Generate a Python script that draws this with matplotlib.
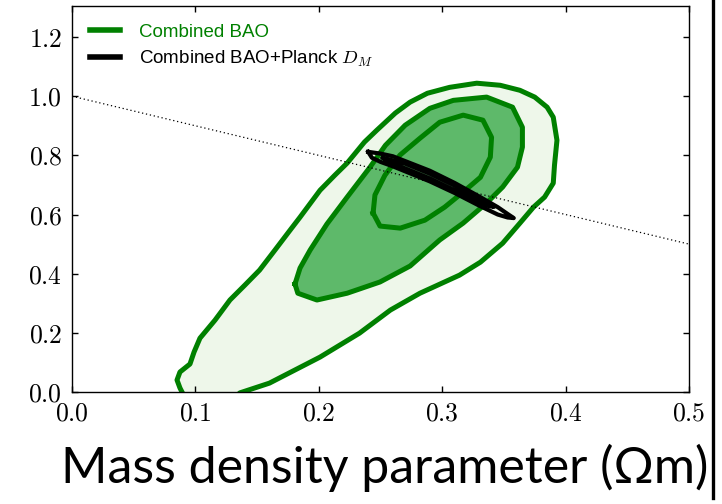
import matplotlib
matplotlib.use("Agg")
import matplotlib.pyplot as plt
import numpy as np
from matplotlib.path import Path
from matplotlib.patches import PathPatch
from matplotlib.lines import Line2D
from matplotlib.ticker import FuncFormatter, MultipleLocator

plt.rcParams['mathtext.fontset'] = 'cm'
plt.rcParams['font.family'] = ['Liberation Sans', 'DejaVu Sans']

# ---- data (Omega_m, Omega_Lambda) ----
bao95_om = [0.0916, 0.0875, 0.0851, 0.0875, 0.0956, 0.0989, 0.1037, 0.1159, 0.128, 0.140,
            0.152, 0.1645, 0.1767, 0.1848, 0.201, 0.213, 0.223, 0.237, 0.247, 0.262,
            0.274, 0.288, 0.306, 0.328, 0.347, 0.363, 0.375, 0.385, 0.390, 0.393,
            0.391, 0.390, 0.383, 0.374, 0.363, 0.349, 0.331, 0.314, 0.282, 0.258,
            0.233, 0.201, 0.160, 0.136, 0.132]
bao95_ol = [-0.020, 0.0135, 0.0405, 0.0676, 0.0946, 0.135, 0.182, 0.243, 0.311, 0.361,
            0.412, 0.480, 0.547, 0.591, 0.682, 0.733, 0.774, 0.845, 0.885, 0.943,
            0.980, 1.010, 1.030, 1.044, 1.037, 1.020, 0.997, 0.963, 0.929, 0.851,
            0.767, 0.706, 0.659, 0.625, 0.571, 0.503, 0.439, 0.395, 0.334, 0.277,
            0.199, 0.118, 0.030, -0.003, -0.020]

bao68_om = [0.1807, 0.183, 0.1985, 0.223, 0.2496, 0.274, 0.298, 0.317, 0.336, 0.349,
            0.361, 0.365, 0.365, 0.357, 0.336, 0.309, 0.290, 0.270, 0.254, 0.2415,
            0.223, 0.2066, 0.193, 0.1848]
bao68_ol = [0.365, 0.334, 0.311, 0.334, 0.372, 0.426, 0.514, 0.571, 0.639, 0.693,
            0.760, 0.828, 0.895, 0.963, 0.997, 0.986, 0.959, 0.902, 0.834, 0.760,
            0.659, 0.568, 0.480, 0.419]

hole_om = [0.244, 0.2455, 0.2536, 0.2658, 0.282, 0.298, 0.317, 0.333, 0.340, 0.339,
           0.331, 0.317, 0.302, 0.286, 0.266, 0.2496]
hole_ol = [0.605, 0.666, 0.733, 0.801, 0.858, 0.912, 0.936, 0.919, 0.861, 0.794,
           0.726, 0.676, 0.625, 0.581, 0.554, 0.561]

planck95_om = [0.240, 0.250, 0.260, 0.290, 0.310, 0.330, 0.345, 0.353, 0.358,
               0.353, 0.345, 0.330, 0.310, 0.290, 0.260, 0.250, 0.243, 0.240]
planck95_ol = [0.812, 0.806, 0.797, 0.748, 0.707, 0.661, 0.625, 0.602, 0.588,
               0.590, 0.600, 0.630, 0.673, 0.712, 0.763, 0.778, 0.792, 0.812]

planck68_om = [0.252, 0.270, 0.290, 0.310, 0.330, 0.342, 0.338, 0.330, 0.310, 0.290, 0.270, 0.255, 0.252]
planck68_ol = [0.792, 0.772, 0.738, 0.698, 0.653, 0.626, 0.628, 0.638, 0.682, 0.722, 0.756, 0.780, 0.792]

flat_om = np.array([0.0, 0.5])
flat_ol = 1.0 - flat_om

xticks = [0.0, 0.1, 0.2, 0.3, 0.4, 0.5]
yticks = [0.0, 0.2, 0.4, 0.6, 0.8, 1.0, 1.2]

GREEN = '#008000'
LIGHT = '#eef7ea'
DARK = '#5eb96a'

fig = plt.figure(figsize=(7.22, 5.04), dpi=100)
ax = fig.add_axes([72/722, 112/504, 617/722, 386/504])

# 95% BAO contour
ax.fill(bao95_om, bao95_ol, facecolor=LIGHT, edgecolor='none', zorder=1)
ax.plot(bao95_om + bao95_om[:1], bao95_ol + bao95_ol[:1], color=GREEN, lw=3.6, zorder=2,
        solid_joinstyle='round')

# 68% BAO ring (with hole)
outer = list(zip(bao68_om, bao68_ol))
inner = list(zip(hole_om, hole_ol))[::-1]
verts = outer + [outer[0]] + inner + [inner[0]]
codes = ([Path.MOVETO] + [Path.LINETO] * (len(outer) - 1) + [Path.CLOSEPOLY] +
         [Path.MOVETO] + [Path.LINETO] * (len(inner) - 1) + [Path.CLOSEPOLY])
ax.add_patch(PathPatch(Path(verts, codes), facecolor=DARK, edgecolor='none', zorder=3))
ax.plot(bao68_om + bao68_om[:1], bao68_ol + bao68_ol[:1], color=GREEN, lw=3.6, zorder=4,
        solid_joinstyle='round')
ax.plot(hole_om + hole_om[:1], hole_ol + hole_ol[:1], color=GREEN, lw=3.6, zorder=4,
        solid_joinstyle='round')

# BAO + Planck D_M
ax.plot(planck95_om, planck95_ol, color='black', lw=3.0, zorder=5, solid_joinstyle='round')
ax.plot(planck68_om, planck68_ol, color='black', lw=3.0, zorder=5, solid_joinstyle='round')

# flat universe line
ax.plot(flat_om, flat_ol, color='black', lw=0.9, ls=(0, (1, 2.2)), zorder=6)

ax.set_xlim(0, 0.5)
ax.set_ylim(0, 1.305)
ax.set_xticks(xticks)
ax.set_yticks(yticks)
fmt = FuncFormatter(lambda v, p: r'$%.1f$' % v)
ax.xaxis.set_major_formatter(fmt)
ax.yaxis.set_major_formatter(fmt)
ax.tick_params(direction='in', length=4.5, width=1, top=True, right=True,
               labelsize=18.5, pad=7)
for s in ax.spines.values():
    s.set_linewidth(1.0)

h1 = Line2D([], [], color=GREEN, lw=4)
h2 = Line2D([], [], color='black', lw=4)
leg = ax.legend([h1, h2], ['Combined BAO', r'Combined BAO+Planck $D_M$'],
                loc='upper left', frameon=False, fontsize=13.5, handlelength=1.6,
                handletextpad=1.0, borderaxespad=0.55, labelspacing=0.42)
leg.get_texts()[0].set_color(GREEN)

label_family = ['Lato', 'Open Sans', 'DejaVu Sans']
fig.text(385/722, (504-483)/504, 'Mass density parameter (Ωm)', ha='center', va='baseline',
         fontsize=36, family=label_family)

# right border line
fig.add_artist(Line2D([713/722, 713/722], [(504-498)/504, 1.0], transform=fig.transFigure,
                      color='black', lw=2.4))

fig.savefig('out.png', dpi=100)
